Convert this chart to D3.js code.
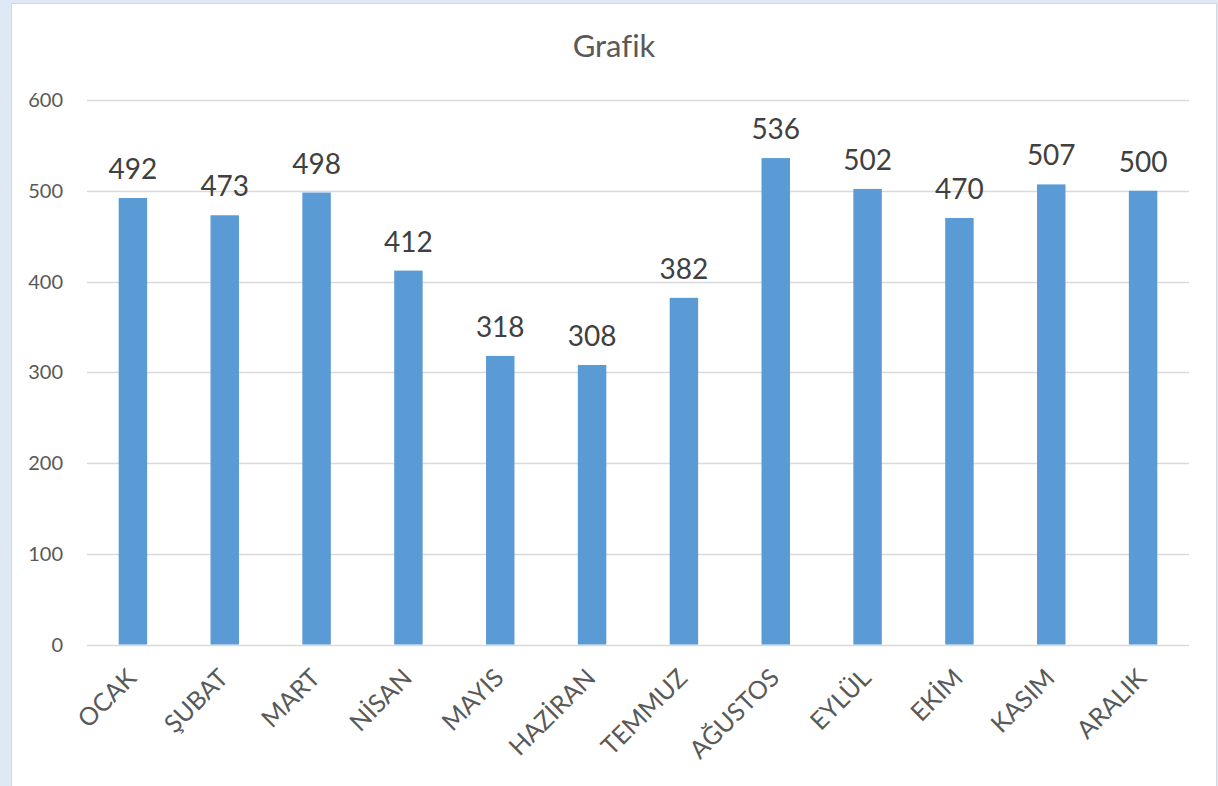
<!DOCTYPE html>
<html>
<head>
<meta charset="utf-8">
<script src="https://cdn.jsdelivr.net/npm/d3@7"></script>
<style>
  html, body { margin: 0; padding: 0; background: #dfe9f5; }
  svg { display: block; font-family: Lato, "Open Sans", sans-serif; font-variant-ligatures: none; }
</style>
</head>
<body>
<div id="chart"></div>
<script>
const width = 1218;
const height = 786;

const months = ["OCAK", "ŞUBAT", "MART", "NİSAN", "MAYIS", "HAZİRAN", "TEMMUZ", "AĞUSTOS", "EYLÜL", "EKİM", "KASIM", "ARALIK"];
const values = [492, 473, 498, 412, 318, 308, 382, 536, 502, 470, 507, 500];
const yTicks = [0, 100, 200, 300, 400, 500, 600];

// plot area
const plotLeft = 87, plotRight = 1189, plotTop = 100, plotBottom = 644.5;

const svg = d3.select("#chart")
    .append("svg")
    .attr("width", width)
    .attr("height", height);

// white chart box
svg.append("rect")
    .attr("x", 11.5)
    .attr("y", 3.5)
    .attr("width", 1205)
    .attr("height", 800)
    .attr("fill", "#fff")
    .attr("stroke", "#d4d8dc");

const x = d3.scaleBand()
    .domain(months)
    .range([plotLeft, plotRight])
    .paddingInner(0.69)
    .paddingOuter(0.345);

const y = d3.scaleLinear()
    .domain([0, 600])
    .range([plotBottom, plotTop]);

// gridlines
svg.append("g")
    .selectAll("line")
    .data(yTicks)
    .enter()
    .append("line")
    .attr("x1", plotLeft)
    .attr("x2", plotRight)
    .attr("y1", d => Math.round(y(d)) + 0.5)
    .attr("y2", d => Math.round(y(d)) + 0.5)
    .attr("stroke", "#d9d9d9")
    .attr("stroke-width", 1.5);

// y tick labels
svg.append("g")
    .selectAll("text")
    .data(yTicks)
    .enter()
    .append("text")
    .attr("x", 63)
    .attr("y", d => y(d))
    .attr("dy", "0.36em")
    .attr("text-anchor", "end")
    .style("font-size", "20px")
    .style("fill", "#595959")
    .text(d => d);

// bars
svg.append("g")
    .selectAll("rect")
    .data(values)
    .enter()
    .append("rect")
    .attr("x", (d, i) => x(months[i]))
    .attr("y", d => y(d))
    .attr("width", x.bandwidth())
    .attr("height", d => y(0) - y(d))
    .attr("fill", "#5b9bd5");

// value labels
svg.append("g")
    .selectAll("text")
    .data(values)
    .enter()
    .append("text")
    .attr("x", (d, i) => x(months[i]) + x.bandwidth() / 2)
    .attr("y", d => y(d) - 19)
    .attr("text-anchor", "middle")
    .style("font-size", "28px")
    .style("fill", "#404040")
    .text(d => d);

// category labels, rotated
svg.append("g")
    .selectAll("text")
    .data(months)
    .enter()
    .append("text")
    .attr("transform", d => `translate(${x(d) + x.bandwidth() / 2 + 5},${plotBottom + 35}) rotate(-45)`)
    .attr("text-anchor", "end")
    .style("font-size", "25px")
    .style("fill", "#595959")
    .text(d => d);

// title
svg.append("text")
    .attr("x", 614)
    .attr("y", 57)
    .attr("text-anchor", "middle")
    .style("font-size", "31px")
    .style("fill", "#595959")
    .text("Grafik");
</script>
</body>
</html>
